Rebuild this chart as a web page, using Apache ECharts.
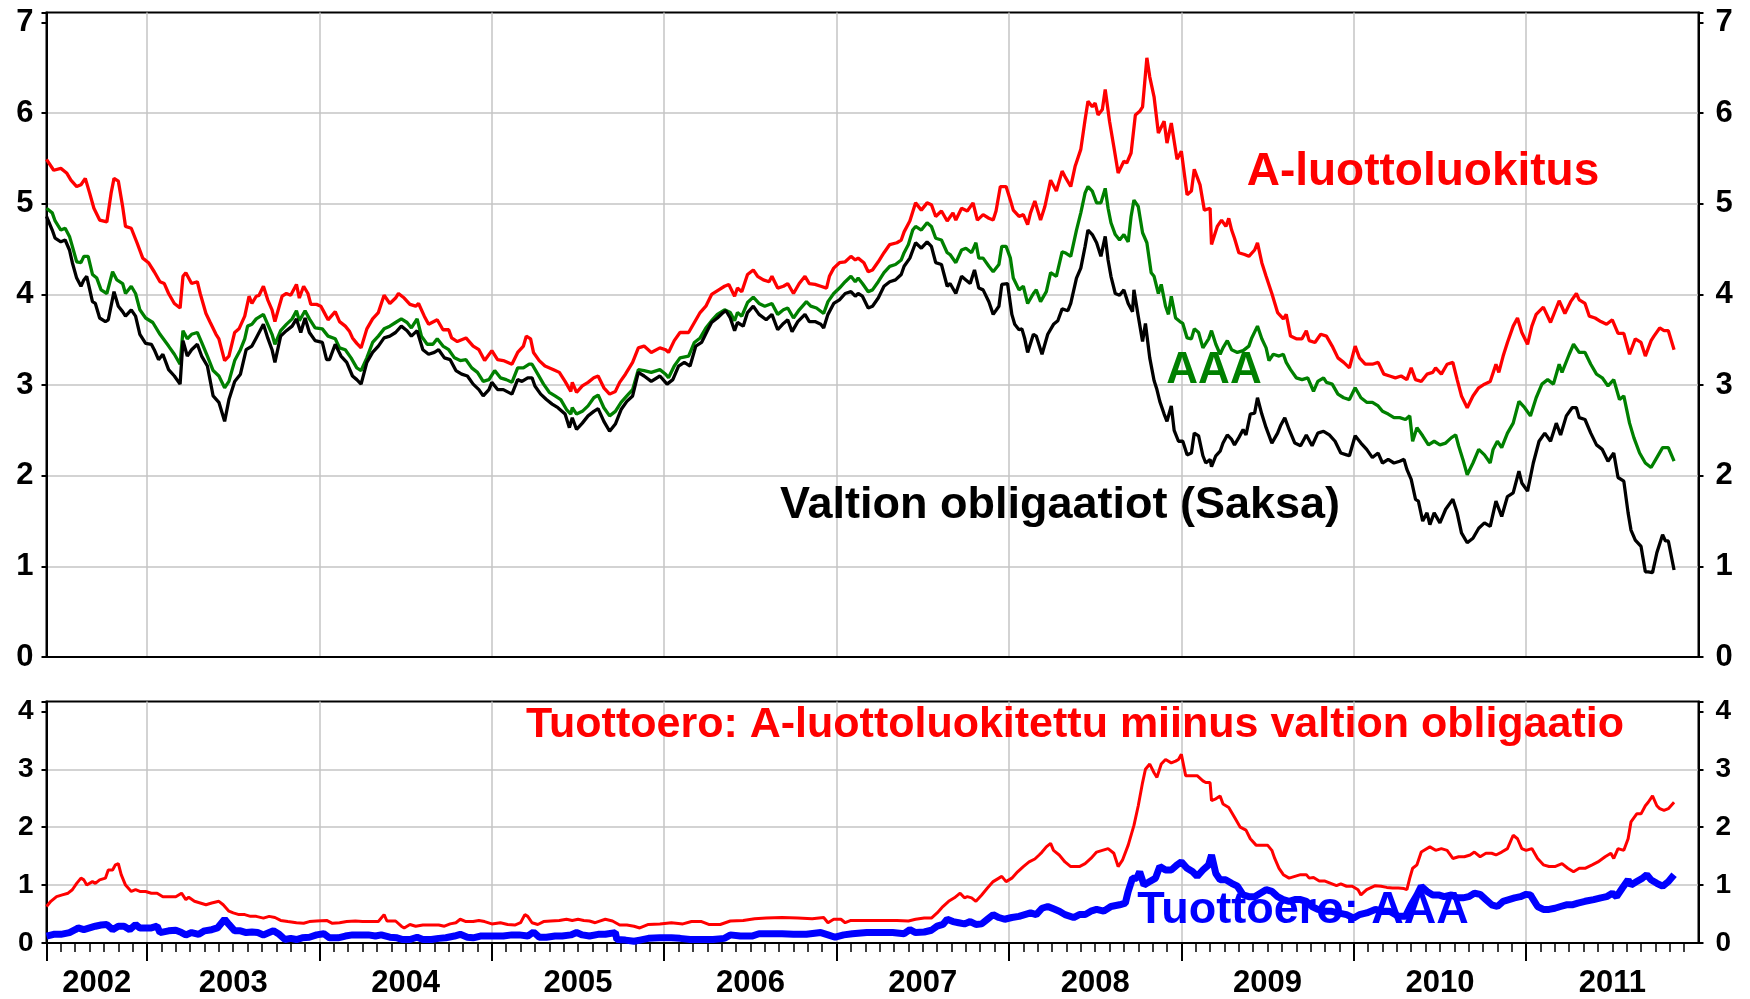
<!DOCTYPE html>
<html>
<head>
<meta charset="utf-8">
<title>Yritys- ja valtionlainojen korot</title>
<script src="https://cdn.jsdelivr.net/npm/echarts@6/dist/echarts.min.js"></script>
<style>
  html, body { margin: 0; padding: 0; background: #fff; }
  #chart { width: 1750px; height: 999px; }
</style>
</head>
<body>
<div id="chart"></div>
<script>
// x values are months counted from 1 June 2002 (axis runs to 1 Jan 2012 = 115)
const yearLabels = ['2002', '2003', '2004', '2005', '2006', '2007', '2008', '2009', '2010', '2011'];

// A-rated corporate yield, %
const aRated = [[0,5.49],[0.5,5.37],[1,5.39],[1.4,5.34],[1.7,5.26],[2.1,5.19],[2.4,5.21],[2.7,5.28],[3,5.12],[3.3,4.95],[3.7,4.82],[4.2,4.8],[4.5,5.12],[4.7,5.28],[5,5.25],[5.3,4.97],[5.5,4.75],[5.9,4.73],[6.3,4.57],[6.7,4.4],[7.1,4.35],[7.5,4.25],[7.9,4.14],[8.2,4.12],[8.5,4.01],[8.9,3.9],[9.3,3.85],[9.5,4.2],[9.7,4.24],[10.1,4.12],[10.5,4.14],[10.7,4.01],[11.1,3.79],[11.4,3.69],[11.8,3.56],[12,3.51],[12.4,3.27],[12.7,3.32],[13.1,3.58],[13.4,3.62],[13.8,3.76],[14.1,3.98],[14.3,3.9],[14.6,3.98],[14.8,3.99],[15.1,4.09],[15.4,3.94],[15.7,3.83],[15.9,3.7],[16.2,3.87],[16.4,3.98],[16.7,4.01],[17,3.99],[17.4,4.11],[17.6,3.96],[17.9,4.09],[18.2,4.01],[18.4,3.89],[18.8,3.89],[19.1,3.87],[19.3,3.81],[19.6,3.72],[20.1,3.81],[20.4,3.7],[20.8,3.65],[21.1,3.59],[21.3,3.52],[21.6,3.46],[21.9,3.41],[22.3,3.62],[22.7,3.73],[23.1,3.8],[23.5,3.99],[23.9,3.9],[24.3,3.96],[24.5,4.01],[24.9,3.96],[25.3,3.89],[25.7,3.87],[25.9,3.9],[26.3,3.76],[26.6,3.67],[27.2,3.72],[27.6,3.61],[28,3.61],[28.2,3.52],[28.6,3.48],[29.2,3.52],[29.7,3.43],[30.1,3.39],[30.5,3.27],[31,3.38],[31.4,3.28],[31.8,3.27],[32.4,3.23],[32.8,3.36],[33.2,3.43],[33.4,3.54],[33.7,3.51],[33.9,3.36],[34.3,3.27],[34.7,3.21],[35.3,3.17],[35.7,3.14],[36.1,3.04],[36.5,2.93],[36.6,3.03],[36.9,2.92],[37.3,2.99],[37.7,3.03],[38.1,3.08],[38.4,3.1],[38.8,2.97],[39.2,2.9],[39.6,2.93],[39.9,3.03],[40.3,3.12],[40.8,3.25],[41.2,3.41],[41.6,3.43],[42.1,3.36],[42.7,3.41],[43.1,3.39],[43.3,3.36],[43.7,3.49],[44.1,3.58],[44.7,3.58],[45.1,3.69],[45.5,3.8],[45.9,3.87],[46.3,4],[46.8,4.05],[47.2,4.09],[47.5,4.11],[47.9,3.98],[48.1,4.07],[48.4,4.03],[48.8,4.22],[49.2,4.27],[49.5,4.2],[49.9,4.16],[50.3,4.14],[50.5,4.2],[50.9,4.07],[51.3,4.09],[51.6,4.12],[52,4.01],[52.4,4.12],[52.8,4.2],[53.1,4.12],[53.5,4.11],[53.9,4.09],[54.3,4.07],[54.5,4.2],[54.8,4.29],[55.2,4.35],[55.6,4.36],[56,4.42],[56.3,4.38],[56.5,4.4],[56.9,4.35],[57.2,4.25],[57.5,4.27],[57.9,4.36],[58.3,4.46],[58.7,4.55],[59.2,4.57],[59.5,4.6],[59.7,4.69],[60.1,4.81],[60.5,5.01],[60.9,4.93],[61.3,5.01],[61.6,4.99],[61.9,4.86],[62.3,4.92],[62.7,4.81],[63.1,4.9],[63.3,4.82],[63.7,4.95],[64.1,4.92],[64.5,5.01],[64.8,4.82],[65.2,4.88],[65.6,4.84],[65.9,4.82],[66.1,4.92],[66.4,5.19],[66.8,5.19],[67.1,5.04],[67.3,4.93],[67.7,4.86],[68,4.88],[68.3,4.77],[68.5,4.9],[68.8,5.03],[69.2,4.82],[69.5,4.97],[69.9,5.26],[70.3,5.14],[70.7,5.36],[70.9,5.3],[71.3,5.19],[71.6,5.41],[72,5.6],[72.3,5.93],[72.5,6.13],[72.8,6.07],[73,6.11],[73.2,5.98],[73.5,6.04],[73.7,6.26],[74,5.91],[74.3,5.63],[74.6,5.34],[75,5.47],[75.2,5.45],[75.5,5.56],[75.8,5.98],[76.1,6.02],[76.3,6.07],[76.6,6.61],[76.8,6.4],[77.1,6.18],[77.4,5.78],[77.8,5.91],[78,5.67],[78.3,5.89],[78.7,5.49],[79,5.58],[79.4,5.1],[79.7,5.14],[79.9,5.38],[80.3,5.21],[80.6,4.93],[81,4.95],[81.1,4.55],[81.5,4.75],[81.8,4.82],[82.1,4.75],[82.3,4.84],[82.5,4.71],[82.7,4.62],[83,4.46],[83.4,4.44],[83.7,4.42],[84.1,4.49],[84.3,4.57],[84.6,4.35],[84.9,4.2],[85.3,4.01],[85.7,3.8],[86.1,3.73],[86.3,3.78],[86.6,3.54],[87,3.51],[87.4,3.51],[87.7,3.6],[87.9,3.49],[88.3,3.47],[88.7,3.56],[89.1,3.54],[89.5,3.43],[89.9,3.3],[90.3,3.25],[90.7,3.19],[91.1,3.43],[91.4,3.3],[91.8,3.23],[92.3,3.23],[92.7,3.25],[93.1,3.12],[93.5,3.1],[93.9,3.08],[94.3,3.1],[94.7,3.06],[95,3.19],[95.3,3.06],[95.7,3.04],[96.1,3.12],[96.5,3.14],[96.7,3.19],[97.1,3.12],[97.5,3.23],[97.9,3.25],[98.2,3.06],[98.5,2.88],[98.9,2.75],[99.3,2.88],[99.7,2.97],[100.1,3.01],[100.5,3.04],[100.9,3.23],[101.1,3.14],[101.4,3.32],[101.7,3.47],[102.1,3.65],[102.4,3.74],[102.7,3.58],[103.1,3.45],[103.4,3.65],[103.7,3.78],[104.2,3.86],[104.7,3.69],[105.3,3.93],[105.7,3.79],[106.1,3.92],[106.5,4.01],[106.7,3.94],[107.1,3.9],[107.4,3.76],[107.8,3.74],[108.2,3.7],[108.6,3.67],[109,3.72],[109.4,3.57],[109.8,3.57],[110.2,3.34],[110.6,3.51],[111,3.47],[111.3,3.32],[111.7,3.49],[111.9,3.54],[112.3,3.63],[112.6,3.6],[112.9,3.6],[113.3,3.39]];

// AAA-rated corporate yield, %
const aaaRated = [[0,4.95],[0.4,4.9],[0.6,4.81],[1,4.71],[1.3,4.73],[1.6,4.64],[1.8,4.53],[2.1,4.36],[2.4,4.35],[2.6,4.42],[2.9,4.42],[3.2,4.22],[3.5,4.18],[3.8,4.05],[4.2,4.01],[4.6,4.25],[4.9,4.16],[5.3,4.12],[5.5,4.01],[5.9,4.09],[6.2,4.01],[6.5,3.83],[6.9,3.74],[7.4,3.69],[7.9,3.56],[8.5,3.43],[8.9,3.34],[9.3,3.23],[9.5,3.6],[9.8,3.51],[10.1,3.56],[10.5,3.58],[10.8,3.47],[11.2,3.32],[11.6,3.16],[12,3.1],[12.4,2.97],[12.7,3.04],[13.1,3.27],[13.5,3.39],[13.8,3.51],[14,3.65],[14.3,3.67],[14.6,3.73],[15.1,3.78],[15.4,3.67],[15.7,3.56],[15.9,3.45],[16.3,3.6],[16.7,3.67],[17.1,3.73],[17.4,3.82],[17.6,3.71],[18,3.82],[18.3,3.73],[18.7,3.63],[19.2,3.62],[19.6,3.54],[20.1,3.51],[20.4,3.41],[20.8,3.39],[21.2,3.3],[21.6,3.19],[21.9,3.16],[22.3,3.3],[22.7,3.47],[23.1,3.54],[23.5,3.62],[23.9,3.65],[24.3,3.69],[24.7,3.73],[25.1,3.69],[25.4,3.63],[25.8,3.73],[26.1,3.54],[26.5,3.45],[26.9,3.45],[27.2,3.51],[27.6,3.43],[28,3.39],[28.4,3.3],[28.8,3.27],[29.2,3.28],[29.6,3.19],[30,3.14],[30.4,3.04],[30.8,3.06],[31.2,3.16],[31.6,3.08],[32,3.06],[32.4,3.03],[32.8,3.19],[33.2,3.19],[33.6,3.23],[33.8,3.23],[34.2,3.12],[34.6,3.01],[35,2.92],[35.4,2.88],[35.8,2.84],[36.2,2.73],[36.5,2.68],[36.6,2.75],[36.9,2.68],[37.3,2.71],[37.7,2.77],[38.1,2.86],[38.4,2.89],[38.8,2.75],[39.2,2.66],[39.6,2.71],[40,2.81],[40.4,2.88],[40.8,2.95],[41.2,3.17],[41.6,3.16],[42.1,3.14],[42.7,3.17],[43.1,3.12],[43.3,3.08],[43.7,3.21],[44.1,3.3],[44.7,3.32],[45.1,3.47],[45.5,3.52],[45.9,3.63],[46.3,3.71],[46.7,3.78],[47.2,3.83],[47.6,3.8],[47.9,3.71],[48.1,3.8],[48.4,3.76],[48.8,3.91],[49.2,3.97],[49.6,3.9],[50,3.87],[50.5,3.9],[50.9,3.78],[51.3,3.83],[51.6,3.85],[52,3.74],[52.4,3.83],[52.9,3.92],[53.2,3.87],[53.6,3.85],[54.1,3.79],[54.4,3.92],[54.8,4.01],[55.2,4.07],[55.6,4.14],[56,4.2],[56.3,4.14],[56.5,4.18],[56.8,4.12],[57.2,4.03],[57.5,4.05],[57.9,4.14],[58.3,4.24],[58.7,4.31],[59.1,4.33],[59.5,4.38],[59.7,4.46],[60,4.55],[60.3,4.71],[60.5,4.75],[60.9,4.71],[61.3,4.79],[61.6,4.75],[61.9,4.62],[62.3,4.6],[62.7,4.46],[62.9,4.44],[63.3,4.35],[63.7,4.49],[64,4.51],[64.4,4.46],[64.7,4.57],[64.9,4.4],[65.2,4.4],[65.6,4.31],[65.9,4.25],[66.3,4.33],[66.5,4.53],[66.8,4.53],[67.1,4.4],[67.3,4.18],[67.7,4.05],[68,4.09],[68.3,3.9],[68.7,4.01],[68.9,4.05],[69.2,3.92],[69.6,4.03],[69.9,4.24],[70.3,4.2],[70.7,4.47],[70.9,4.46],[71.3,4.42],[71.7,4.71],[72,4.9],[72.3,5.12],[72.5,5.19],[72.8,5.14],[73.1,5.01],[73.4,5.01],[73.7,5.17],[73.9,4.95],[74.1,4.79],[74.4,4.66],[74.7,4.6],[75,4.66],[75.3,4.58],[75.5,4.86],[75.7,5.04],[76,4.97],[76.3,4.68],[76.6,4.57],[76.9,4.24],[77.1,4.2],[77.4,4.01],[77.6,4.11],[77.9,3.87],[78.1,3.78],[78.3,3.98],[78.6,3.74],[78.9,3.7],[79.1,3.68],[79.4,3.52],[79.7,3.51],[79.9,3.62],[80.2,3.58],[80.5,3.41],[80.9,3.51],[81.1,3.6],[81.4,3.45],[81.7,3.34],[81.9,3.41],[82.2,3.49],[82.5,3.39],[82.9,3.36],[83.3,3.38],[83.7,3.43],[83.9,3.52],[84.3,3.65],[84.6,3.51],[84.9,3.41],[85.1,3.27],[85.4,3.34],[85.8,3.32],[86.1,3.34],[86.3,3.25],[86.6,3.17],[87,3.08],[87.4,3.06],[87.8,3.08],[88.2,2.93],[88.5,3.04],[88.9,3.08],[89.1,3.03],[89.5,3.01],[89.9,2.9],[90.3,2.86],[90.7,2.84],[91.1,2.97],[91.5,2.86],[91.9,2.81],[92.3,2.81],[92.7,2.77],[93,2.71],[93.4,2.68],[93.8,2.64],[94.2,2.64],[94.6,2.62],[94.9,2.66],[95.1,2.38],[95.4,2.53],[95.8,2.44],[96.2,2.34],[96.6,2.38],[97,2.34],[97.4,2.36],[97.8,2.42],[98.1,2.45],[98.3,2.33],[98.6,2.18],[98.9,2.01],[99.3,2.14],[99.7,2.29],[100.1,2.23],[100.5,2.14],[100.7,2.29],[101,2.38],[101.3,2.31],[101.7,2.47],[102.1,2.58],[102.5,2.82],[102.9,2.75],[103.3,2.66],[103.7,2.86],[104.1,3.01],[104.5,3.06],[104.9,3.01],[105.3,3.23],[105.5,3.14],[106,3.34],[106.3,3.45],[106.7,3.36],[107.1,3.36],[107.5,3.23],[107.9,3.12],[108.3,3.08],[108.7,2.99],[109.1,3.06],[109.5,2.84],[109.8,2.88],[110.2,2.58],[110.5,2.42],[110.9,2.25],[111.3,2.14],[111.7,2.09],[112.1,2.2],[112.5,2.31],[112.9,2.31],[113.3,2.16]];

// German government bond yield, %
const bund = [[0,4.86],[0.4,4.71],[0.6,4.62],[1,4.58],[1.3,4.6],[1.6,4.49],[1.8,4.35],[2.1,4.18],[2.4,4.09],[2.6,4.16],[2.8,4.2],[3.2,3.92],[3.4,3.9],[3.7,3.74],[4.1,3.7],[4.3,3.72],[4.7,4.03],[5,3.87],[5.3,3.81],[5.5,3.76],[5.9,3.83],[6.2,3.76],[6.5,3.56],[6.9,3.46],[7.3,3.45],[7.5,3.39],[7.8,3.28],[8.1,3.34],[8.5,3.17],[8.9,3.1],[9.3,3.01],[9.5,3.49],[9.8,3.32],[10.1,3.39],[10.5,3.45],[10.8,3.32],[11.2,3.21],[11.6,2.88],[12,2.81],[12.4,2.6],[12.7,2.84],[13.1,3.04],[13.5,3.12],[13.9,3.39],[14.3,3.43],[14.6,3.52],[15.1,3.67],[15.4,3.52],[15.7,3.39],[15.9,3.25],[16.3,3.54],[16.7,3.6],[17.1,3.65],[17.4,3.73],[17.7,3.58],[18,3.74],[18.3,3.58],[18.7,3.49],[19.2,3.47],[19.5,3.28],[19.7,3.28],[20.1,3.45],[20.5,3.32],[20.9,3.25],[21.3,3.1],[21.6,3.06],[21.9,3.01],[22.3,3.25],[22.7,3.36],[23.1,3.43],[23.5,3.52],[23.9,3.54],[24.3,3.58],[24.7,3.65],[25.1,3.6],[25.4,3.54],[25.8,3.6],[26.2,3.39],[26.6,3.34],[27,3.36],[27.3,3.39],[27.7,3.3],[28.1,3.28],[28.5,3.16],[28.9,3.12],[29.3,3.1],[29.7,3.01],[30.1,2.95],[30.4,2.88],[30.8,2.95],[31,3.03],[31.4,2.95],[31.8,2.95],[32.4,2.9],[32.8,3.06],[33.1,3.04],[33.5,3.08],[33.8,3.08],[34,2.99],[34.4,2.9],[34.8,2.84],[35.2,2.79],[35.6,2.75],[36.1,2.68],[36.4,2.53],[36.6,2.64],[36.9,2.51],[37.3,2.58],[37.7,2.66],[38.1,2.71],[38.4,2.74],[38.8,2.6],[39.2,2.49],[39.6,2.57],[40,2.73],[40.4,2.82],[40.8,2.88],[41.2,3.14],[41.6,3.1],[42.1,3.04],[42.7,3.1],[43.2,3.01],[43.6,3.06],[44,3.21],[44.4,3.25],[44.8,3.21],[45.2,3.43],[45.6,3.47],[46,3.6],[46.3,3.69],[46.7,3.74],[47.1,3.8],[47.3,3.82],[47.6,3.74],[47.9,3.6],[48.1,3.69],[48.5,3.65],[48.8,3.8],[49.2,3.87],[49.6,3.78],[50.1,3.72],[50.5,3.78],[50.9,3.61],[51.3,3.68],[51.6,3.72],[51.9,3.59],[52.3,3.7],[52.8,3.78],[53.1,3.7],[53.5,3.7],[53.9,3.67],[54.1,3.63],[54.4,3.78],[54.8,3.9],[55.2,3.94],[55.6,4.01],[56,4.03],[56.3,3.98],[56.5,4.01],[56.8,3.98],[57.2,3.85],[57.5,3.87],[57.9,3.96],[58.3,4.09],[58.7,4.14],[59.1,4.16],[59.5,4.22],[59.7,4.31],[60.1,4.4],[60.5,4.57],[60.9,4.51],[61.3,4.58],[61.6,4.53],[61.9,4.35],[62.3,4.33],[62.7,4.09],[62.9,4.12],[63.3,4.01],[63.7,4.2],[64,4.16],[64.3,4.12],[64.6,4.27],[64.9,4.07],[65.2,4.05],[65.6,3.92],[65.9,3.78],[66.3,3.87],[66.5,4.11],[66.9,4.12],[67.2,3.78],[67.4,3.67],[67.7,3.61],[67.9,3.62],[68.1,3.51],[68.3,3.36],[68.7,3.56],[68.9,3.54],[69.3,3.34],[69.7,3.56],[70.1,3.67],[70.4,3.71],[70.7,3.84],[71.1,3.82],[71.3,3.9],[71.7,4.18],[72,4.29],[72.3,4.53],[72.5,4.71],[72.8,4.66],[73.1,4.57],[73.4,4.42],[73.7,4.64],[73.9,4.38],[74.1,4.2],[74.4,4.01],[74.7,3.99],[75,4.05],[75.3,3.9],[75.6,3.81],[75.7,4.05],[76,3.76],[76.3,3.48],[76.5,3.68],[76.8,3.3],[77.1,3.05],[77.3,2.95],[77.5,2.82],[77.8,2.68],[78,2.6],[78.3,2.77],[78.5,2.5],[78.8,2.38],[79.1,2.38],[79.4,2.23],[79.7,2.25],[79.9,2.47],[80.2,2.44],[80.5,2.22],[80.7,2.14],[81,2.18],[81.1,2.1],[81.4,2.22],[81.7,2.27],[81.9,2.36],[82.2,2.45],[82.5,2.4],[82.7,2.34],[83,2.42],[83.3,2.51],[83.5,2.45],[83.8,2.68],[84.1,2.69],[84.3,2.86],[84.6,2.68],[84.9,2.53],[85.3,2.36],[85.7,2.47],[85.9,2.55],[86.2,2.64],[86.5,2.51],[86.9,2.36],[87.3,2.33],[87.7,2.45],[88.1,2.33],[88.5,2.47],[88.9,2.49],[89.3,2.45],[89.7,2.38],[90.1,2.25],[90.5,2.23],[90.7,2.22],[91.1,2.44],[91.5,2.36],[91.9,2.29],[92.3,2.2],[92.7,2.25],[93,2.14],[93.4,2.18],[93.8,2.14],[94.2,2.16],[94.5,2.18],[94.7,2.07],[95,1.96],[95.3,1.74],[95.5,1.72],[95.8,1.5],[96.1,1.59],[96.3,1.46],[96.6,1.59],[97,1.48],[97.4,1.63],[97.9,1.74],[98.2,1.59],[98.5,1.37],[98.9,1.26],[99.3,1.31],[99.7,1.42],[100.1,1.48],[100.5,1.44],[100.9,1.72],[101.3,1.55],[101.7,1.77],[102.1,1.81],[102.5,2.05],[102.7,1.92],[103.1,1.83],[103.5,2.14],[103.9,2.38],[104.3,2.47],[104.7,2.38],[105.1,2.58],[105.4,2.45],[105.8,2.66],[106.2,2.75],[106.5,2.75],[106.7,2.64],[107.1,2.62],[107.5,2.47],[107.9,2.34],[108.3,2.29],[108.7,2.16],[109.1,2.25],[109.4,1.98],[109.8,1.94],[110.1,1.59],[110.3,1.4],[110.6,1.29],[111,1.22],[111.3,0.94],[111.5,0.94],[111.8,0.93],[112.1,1.15],[112.5,1.35],[112.7,1.28],[112.9,1.28],[113.3,0.96]];

// spread: A-rated minus government bond, %-points
const spreadA = [[0,0.63],[0.3,0.72],[0.7,0.8],[1.1,0.83],[1.5,0.86],[1.8,0.92],[2.1,1.03],[2.4,1.12],[2.6,1.09],[2.8,1],[3.2,1.06],[3.4,1.03],[3.7,1.09],[4.1,1.12],[4.3,1.26],[4.6,1.26],[4.8,1.35],[5,1.37],[5.2,1.18],[5.5,1],[5.9,0.89],[6.2,0.92],[6.5,0.89],[6.9,0.89],[7.3,0.86],[7.7,0.86],[8.1,0.8],[8.5,0.8],[9,0.8],[9.4,0.86],[9.7,0.75],[9.9,0.79],[10.3,0.72],[10.7,0.69],[11.1,0.66],[11.5,0.69],[12,0.72],[12.3,0.66],[12.7,0.55],[13,0.52],[13.4,0.49],[13.8,0.49],[14.2,0.46],[14.6,0.46],[15.1,0.43],[15.5,0.46],[15.9,0.44],[16.3,0.39],[16.8,0.37],[17.4,0.35],[17.9,0.34],[18.3,0.37],[18.8,0.38],[19.5,0.39],[19.9,0.34],[20.4,0.35],[20.9,0.37],[21.5,0.38],[22,0.37],[22.5,0.37],[23.1,0.37],[23.5,0.49],[23.7,0.38],[24.3,0.38],[24.7,0.29],[24.9,0.26],[25.3,0.32],[25.7,0.29],[26.2,0.31],[26.8,0.31],[27.3,0.31],[27.7,0.29],[28.1,0.33],[28.5,0.35],[28.8,0.41],[29.2,0.37],[29.7,0.37],[30.1,0.39],[30.5,0.37],[31,0.33],[31.6,0.35],[32.1,0.32],[32.6,0.31],[33,0.35],[33.3,0.49],[33.5,0.46],[33.8,0.35],[34.2,0.32],[34.6,0.37],[35.1,0.38],[35.7,0.39],[36.2,0.41],[36.6,0.39],[37,0.41],[37.4,0.39],[37.8,0.38],[38.2,0.35],[38.4,0.37],[38.9,0.41],[39.4,0.38],[39.9,0.31],[40.4,0.31],[40.9,0.29],[41.3,0.26],[41.9,0.32],[42.7,0.33],[43.5,0.35],[44.3,0.33],[44.9,0.37],[45.6,0.37],[46.1,0.32],[46.9,0.32],[47.6,0.38],[48.5,0.39],[49.3,0.42],[50.1,0.43],[51.2,0.44],[52.3,0.43],[53.3,0.42],[54.1,0.44],[54.4,0.35],[54.8,0.41],[55.3,0.41],[55.6,0.35],[56,0.39],[57.1,0.39],[58.1,0.39],[59.2,0.39],[60,0.38],[60.5,0.41],[61.1,0.43],[61.6,0.43],[62,0.52],[62.4,0.63],[62.8,0.72],[63.2,0.78],[63.6,0.86],[63.9,0.78],[64.1,0.8],[64.4,0.78],[64.7,0.72],[65.1,0.83],[65.5,0.95],[65.9,1.06],[66.3,1.12],[66.5,1.15],[66.8,1.06],[67.2,1.12],[67.6,1.23],[68,1.32],[68.4,1.4],[68.8,1.45],[69.1,1.52],[69.3,1.57],[69.6,1.66],[69.9,1.72],[70.1,1.6],[70.5,1.52],[70.9,1.4],[71.3,1.32],[71.9,1.32],[72.3,1.37],[72.7,1.46],[73.1,1.57],[73.5,1.6],[73.9,1.63],[74.3,1.55],[74.6,1.32],[74.9,1.43],[75.3,1.69],[75.7,2.03],[76,2.37],[76.3,2.77],[76.5,3],[76.8,3.09],[77.1,2.94],[77.3,2.86],[77.6,3.09],[77.9,3.17],[78.3,3.11],[78.6,3.14],[78.8,3.17],[79,3.26],[79.3,2.89],[79.7,2.89],[80.1,2.89],[80.5,2.8],[80.7,2.77],[81,2.77],[81.1,2.46],[81.4,2.49],[81.7,2.54],[81.9,2.4],[82.3,2.34],[82.7,2.17],[83.1,2],[83.5,1.95],[83.8,1.8],[84.2,1.69],[84.6,1.69],[85,1.69],[85.3,1.6],[85.5,1.46],[85.8,1.29],[86.1,1.18],[86.5,1.12],[86.9,1.15],[87.3,1.18],[87.7,1.18],[87.9,1.12],[88.2,1.13],[88.6,1.07],[89,1.07],[89.4,1.03],[89.8,0.99],[90.1,1.02],[90.5,0.98],[90.9,0.98],[91.3,0.92],[91.5,0.83],[91.9,0.92],[92.5,0.99],[92.9,0.98],[93.3,0.96],[93.7,0.95],[94.1,0.95],[94.5,0.94],[94.7,0.92],[94.9,1.12],[95.1,1.29],[95.4,1.35],[95.7,1.57],[95.9,1.6],[96.3,1.66],[96.7,1.6],[97.1,1.63],[97.5,1.6],[97.9,1.46],[98.3,1.49],[98.7,1.49],[99.1,1.52],[99.4,1.57],[99.8,1.49],[100.2,1.55],[100.6,1.55],[100.9,1.52],[101.3,1.57],[101.7,1.63],[102.1,1.86],[102.4,1.8],[102.7,1.63],[103,1.6],[103.4,1.63],[103.8,1.46],[104.2,1.35],[104.6,1.32],[105,1.32],[105.5,1.37],[105.9,1.29],[106.3,1.23],[106.7,1.29],[107.1,1.29],[107.6,1.35],[108,1.4],[108.5,1.49],[108.9,1.55],[109.1,1.46],[109.4,1.63],[109.8,1.6],[110.1,1.8],[110.3,2.09],[110.7,2.23],[111,2.23],[111.3,2.37],[111.5,2.43],[111.8,2.54],[112.1,2.37],[112.3,2.32],[112.6,2.29],[112.9,2.32],[113.3,2.43]];

// spread: AAA-rated minus government bond, %-points
const spreadAAA = [[0,0.12],[0.5,0.15],[1,0.15],[1.6,0.18],[2,0.23],[2.2,0.26],[2.6,0.23],[3,0.26],[3.4,0.29],[3.8,0.31],[4.2,0.32],[4.6,0.23],[5,0.29],[5.4,0.29],[5.8,0.23],[6.2,0.32],[6.5,0.26],[6.9,0.26],[7.3,0.26],[7.7,0.29],[7.9,0.18],[8.5,0.21],[9,0.22],[9.4,0.18],[9.7,0.14],[10.1,0.18],[10.6,0.15],[11,0.21],[11.5,0.23],[11.9,0.26],[12.2,0.35],[12.4,0.41],[12.7,0.32],[13.1,0.21],[13.5,0.21],[13.9,0.18],[14.3,0.19],[14.7,0.18],[15.1,0.14],[15.5,0.18],[15.8,0.21],[16.2,0.15],[16.6,0.06],[17,0.08],[17.4,0.06],[17.8,0.09],[18.3,0.1],[18.8,0.14],[19.3,0.16],[19.7,0.09],[20.3,0.09],[20.8,0.12],[21.3,0.14],[21.9,0.14],[22.4,0.14],[22.9,0.12],[23.3,0.14],[23.9,0.1],[24.4,0.09],[24.8,0.06],[25.3,0.06],[25.8,0.1],[26.2,0.06],[26.8,0.06],[27.3,0.08],[27.8,0.09],[28.4,0.12],[28.8,0.15],[29.3,0.1],[29.7,0.09],[30.2,0.12],[30.7,0.12],[31.3,0.12],[31.8,0.12],[32.4,0.14],[32.9,0.14],[33.5,0.12],[33.9,0.19],[34.3,0.1],[34.8,0.1],[35.4,0.12],[35.9,0.12],[36.5,0.14],[36.9,0.18],[37.3,0.14],[37.8,0.12],[38.4,0.15],[38.9,0.15],[39.6,0.18],[39.7,0.06],[40.3,0.05],[40.9,0.03],[41.3,0.05],[41.9,0.08],[42.7,0.09],[43.5,0.09],[44.1,0.08],[44.8,0.06],[45.6,0.06],[46.4,0.06],[47.2,0.08],[47.6,0.14],[48.3,0.12],[49.1,0.12],[49.6,0.16],[50.4,0.16],[51.2,0.16],[52,0.15],[52.9,0.15],[53.9,0.18],[54.4,0.14],[54.9,0.1],[55.5,0.14],[56.1,0.16],[57.1,0.18],[58,0.18],[58.9,0.18],[59.7,0.16],[60.1,0.23],[60.5,0.18],[61.1,0.19],[61.6,0.22],[62,0.29],[62.4,0.32],[62.7,0.41],[63.1,0.37],[63.5,0.35],[63.9,0.33],[64.3,0.37],[64.7,0.32],[65.1,0.33],[65.5,0.41],[65.9,0.49],[66.3,0.44],[66.7,0.41],[67.2,0.44],[67.7,0.46],[68.1,0.49],[68.5,0.52],[68.9,0.49],[69.3,0.6],[69.7,0.63],[70.1,0.59],[70.5,0.55],[70.9,0.49],[71.5,0.44],[71.9,0.49],[72.3,0.49],[72.7,0.55],[73.1,0.58],[73.6,0.55],[74.1,0.63],[74.7,0.66],[75.1,0.69],[75.3,0.89],[75.6,1.12],[75.9,1.12],[76.1,1.23],[76.4,1],[76.8,1.06],[77.2,1.12],[77.5,1.32],[77.9,1.26],[78.3,1.26],[78.7,1.35],[79,1.4],[79.4,1.29],[79.8,1.23],[80.1,1.15],[80.5,1.26],[80.9,1.35],[81.1,1.52],[81.4,1.2],[81.7,1.09],[82.1,1.09],[82.5,1.03],[82.9,0.98],[83.3,0.83],[83.7,0.8],[84.1,0.8],[84.5,0.86],[84.9,0.92],[85.3,0.89],[85.7,0.8],[86.1,0.75],[86.5,0.72],[86.9,0.75],[87.3,0.75],[87.7,0.72],[88.1,0.63],[88.5,0.58],[89,0.55],[89.4,0.55],[89.9,0.52],[90.5,0.49],[91,0.43],[91.4,0.49],[91.9,0.52],[92.5,0.58],[93,0.55],[93.5,0.55],[94.1,0.46],[94.6,0.46],[95,0.66],[95.4,0.83],[95.7,0.98],[96.1,0.89],[96.5,0.83],[96.9,0.83],[97.3,0.8],[97.8,0.83],[98.2,0.78],[98.6,0.78],[99,0.8],[99.4,0.86],[99.8,0.84],[100.2,0.75],[100.6,0.66],[101,0.63],[101.4,0.72],[101.8,0.75],[102.2,0.78],[102.6,0.8],[103,0.84],[103.3,0.83],[103.5,0.75],[103.8,0.63],[104.2,0.58],[104.6,0.58],[105,0.6],[105.4,0.63],[105.8,0.66],[106.2,0.66],[106.6,0.69],[107.1,0.72],[107.7,0.75],[108.2,0.78],[108.6,0.8],[109,0.86],[109.3,0.8],[109.7,0.95],[110.1,1.09],[110.3,1],[110.7,1.06],[111.1,1.12],[111.4,1.18],[111.7,1.09],[112.1,1.03],[112.5,0.98],[112.9,1.06],[113.3,1.18]];

const FONT = '"Liberation Sans", Arial, sans-serif';
const GRID_GREY = '#c4c4c4';
const RED = '#ff0000', GREEN = '#008000', BLUE = '#0000ff', BLACK = '#000000';

// half-month slots for the date axes: slot 0 = 1 Jun 2002, slot 230 = 1 Jan 2012
const SLOTS = 231;
const slots = Array.from({ length: SLOTS }, (_, i) => String(i));
const isJan = (i) => i % 24 === 14 && i < SLOTS - 1;
const isMonth = (i) => i % 2 === 0 && i < SLOTS - 1;
const isMajor = (i) => i === 0 || isJan(i);
// year label sits in the middle of each year's span
const labelAt = {};
yearLabels.forEach((y, k) => { labelAt[k === 0 ? 7 : 26 + 24 * (k - 1)] = y; });

const intLabel = (v) => (Math.abs(v - Math.round(v)) < 1e-6 ? String(Math.round(v)) : '');

function yAxisPair(grid, max, fontSize, greyCount) {
  const common = {
    gridIndex: grid, type: 'value', min: 0, max, interval: 1,
    axisLine: { show: true, lineStyle: { color: BLACK, width: 2 } },
    axisTick: { show: true, length: 5, lineStyle: { color: BLACK, width: 2 } },
  };
  const label = { fontSize, fontWeight: 'bold', color: BLACK, fontFamily: FONT, formatter: intLabel };
  const colors = Array(greyCount).fill(GRID_GREY).concat(['rgba(0,0,0,0)', 'rgba(0,0,0,0)']);
  return [
    { ...common, position: 'left', axisLabel: { ...label, margin: 13 },
      splitLine: { show: true, showMinLine: false, showMaxLine: false, lineStyle: { color: colors, width: 1.5 } } },
    { ...common, position: 'right', axisLabel: { ...label, margin: 17 }, splitLine: { show: false } },
  ];
}

function textItem(text, x, y, size, color) {
  return {
    type: 'text', x, y, z: 10, silent: true,
    style: {
      text, fill: color, fontSize: size, fontWeight: 'bold', fontFamily: FONT,
      align: 'center', verticalAlign: 'middle', textAlign: 'center', textVerticalAlign: 'middle',
    },
  };
}

function line(name, data, color, width, xi, yi) {
  return {
    name, type: 'line', data, xAxisIndex: xi, yAxisIndex: yi,
    showSymbol: false, symbol: 'none', silent: true,
    lineStyle: { color, width }, itemStyle: { color },
  };
}

const chart = echarts.init(document.getElementById('chart'));
chart.setOption({
  backgroundColor: '#ffffff',
  animation: false,
  grid: [
    { left: 46.5, right: 51.5, top: 12.5, height: 644.5, show: true, borderColor: BLACK, borderWidth: 2 },
    { left: 46.5, right: 51.5, top: 701.5, height: 244, show: true, borderColor: BLACK, borderWidth: 2 },
  ],
  xAxis: [
    { gridIndex: 0, type: 'category', data: slots, boundaryGap: false, position: 'bottom',
      axisLine: { lineStyle: { color: BLACK, width: 2 } }, axisTick: { show: false }, axisLabel: { show: false },
      splitLine: { show: true, interval: isJan, lineStyle: { color: GRID_GREY, width: 1.5 } } },
    { gridIndex: 0, type: 'value', min: 0, max: 115, show: false },
    { gridIndex: 1, type: 'category', data: slots, boundaryGap: false, position: 'bottom',
      axisLine: { lineStyle: { color: BLACK, width: 2 } },
      axisTick: { show: true, interval: isMonth, length: 9, lineStyle: { color: BLACK, width: 1.5 } },
      axisLabel: { show: true, interval: (i) => labelAt[i] !== undefined, formatter: (v) => labelAt[+v] || '',
        fontSize: 31, fontWeight: 'bold', color: BLACK, fontFamily: FONT, margin: 25 },
      splitLine: { show: true, interval: isJan, lineStyle: { color: GRID_GREY, width: 1.5 } } },
    { gridIndex: 1, type: 'category', data: slots, boundaryGap: false, position: 'bottom',
      axisLine: { show: false }, axisLabel: { show: false }, splitLine: { show: false },
      axisTick: { show: true, interval: isMajor, length: 18, lineStyle: { color: BLACK, width: 2 } } },
    { gridIndex: 1, type: 'value', min: 0, max: 115, show: false },
  ],
  yAxis: [
    ...yAxisPair(0, 7.11, 31, 6),
    ...yAxisPair(1, 4.17, 28, 3),
  ],
  series: [
    line('A-luottoluokitus', aRated, RED, 3.3, 1, 0),
    line('AAA', aaaRated, GREEN, 3.3, 1, 0),
    line('Valtion obligaatiot (Saksa)', bund, BLACK, 3.3, 1, 0),
    line('Tuottoero: A', spreadA, RED, 3, 4, 2),
    line('Tuottoero: AAA', spreadAAA, BLUE, 7, 4, 2),
  ],
  graphic: [
    textItem('A-luottoluokitus', 1423, 172, 46, RED),
    textItem('AAA', 1214, 371, 44, GREEN),
    textItem('Valtion obligaatiot (Saksa)', 1060, 506, 45, BLACK),
    textItem('Tuottoero: A-luottoluokitettu miinus valtion obligaatio', 1075, 725, 43, RED),
    textItem('Tuottoero: AAA', 1303, 911, 45, BLUE),
  ],
});
</script>
</body>
</html>
